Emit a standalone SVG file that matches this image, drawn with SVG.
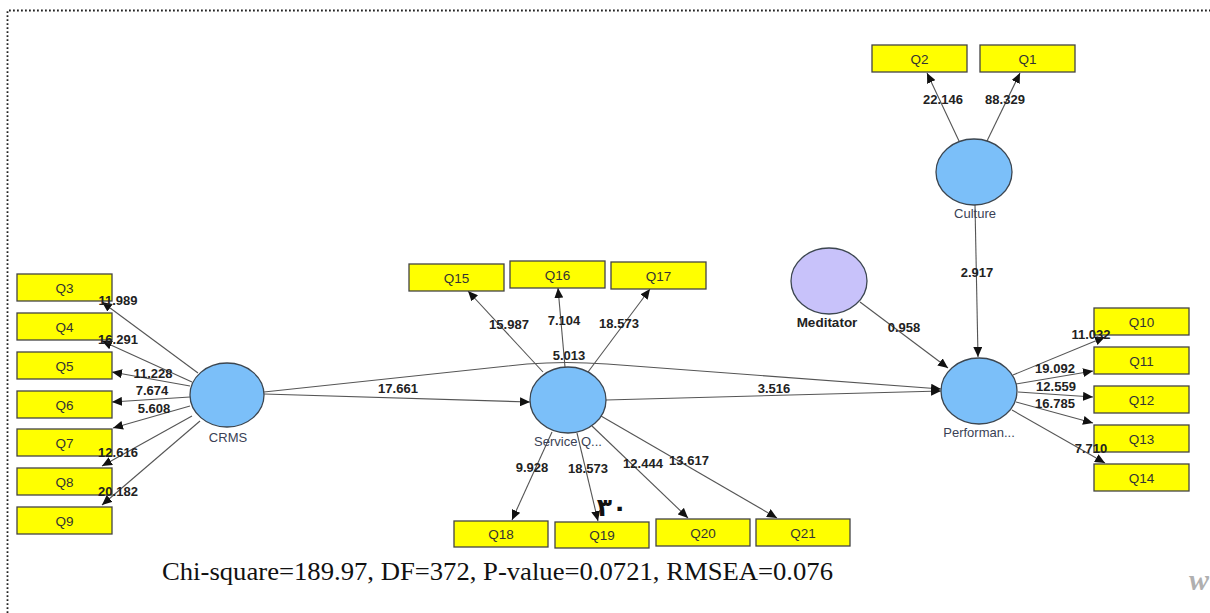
<svg xmlns="http://www.w3.org/2000/svg" width="1210" height="613" viewBox="0 0 1210 613">
  <defs>
    <marker id="ah" markerUnits="userSpaceOnUse" markerWidth="11" markerHeight="9" refX="10" refY="4.5" orient="auto">
      <path d="M0,0 L10,4.5 L0,9 z" fill="#111"/>
    </marker>
    <style>
      .ind rect { fill: #ffff00; stroke: #444; stroke-width: 1.3; }
      .ind text { font-family: "Liberation Sans", Arial, sans-serif; font-size: 13.5px; fill: #333; text-anchor: middle; }
      .lv ellipse { fill: #7bbff9; stroke: #3c4650; stroke-width: 1.3; }
      .lv text { font-family: "Liberation Sans", Arial, sans-serif; font-size: 13px; fill: #3a3f55; text-anchor: middle; }
      .med ellipse { fill: #c8c2fa; }
      .med text { font-weight: bold; fill: #222; font-size: 13.5px; }
      .edges path { fill: none; stroke: #555; stroke-width: 1.1; marker-end: url(#ah); }
      .val { font-family: "Liberation Sans", Arial, sans-serif; font-size: 13px; font-weight: bold; fill: #222; text-anchor: middle; }
    </style>
  </defs>

  <rect width="1210" height="613" fill="#fff"/>
  <!-- dotted page frame -->
  <path d="M7.5,613 V10.5 H1210" fill="none" stroke="#222" stroke-width="1.8" stroke-dasharray="1.8 2.2"/>

  <!-- connectors -->
  <g id="connectors" class="edges">
    <!-- CRMS loadings -->
    <path d="M198,373 L102,302"/>
    <path d="M192,382 L102,341"/>
    <path d="M190,386 L112,372"/>
    <path d="M190,397 L112,402"/>
    <path d="M190,406 L113,428"/>
    <path d="M192,416 L102,466"/>
    <path d="M200,421 L102,505"/>
    <!-- structural paths -->
    <path d="M264,394 L530,402"/>
    <path d="M264,392 L527,364 Q566,361 607,364 L941,389"/>
    <path d="M606,400 L941,391"/>
    <path d="M860,302 L948,368"/>
    <path d="M975,205 L978,357"/>
    <!-- Service Q loadings -->
    <path d="M543,372 L468,291"/>
    <path d="M565,367 L558,288"/>
    <path d="M588,372 L650,289"/>
    <path d="M552,432 L512,520"/>
    <path d="M577,433 L598,521"/>
    <path d="M592,426 L688,518"/>
    <path d="M601,416 L777,518"/>
    <!-- Culture loadings -->
    <path d="M959,141 L927,73"/>
    <path d="M987,141 L1020,73"/>
    <!-- Performance loadings -->
    <path d="M1013,375 L1105,337"/>
    <path d="M1016,384 L1093,371"/>
    <path d="M1018,392 L1093,397"/>
    <path d="M1016,402 L1093,423"/>
    <path d="M1012,410 L1105,463"/>
  </g>

  <!-- latent variables -->
  <g id="crms" class="lv">
    <ellipse cx="227" cy="395" rx="37" ry="32"/>
    <text x="228" y="442">CRMS</text>
  </g>
  <g id="service" class="lv">
    <ellipse cx="568" cy="400" rx="38" ry="33"/>
    <text x="568" y="446">Service Q...</text>
  </g>
  <g id="performance" class="lv">
    <ellipse cx="979" cy="391" rx="38" ry="33"/>
    <text x="979" y="437">Performan...</text>
  </g>
  <g id="culture" class="lv">
    <ellipse cx="974" cy="172" rx="38" ry="33"/>
    <text x="975" y="218">Culture</text>
  </g>
  <g id="meditator" class="lv med">
    <ellipse cx="829" cy="281" rx="38" ry="33"/>
    <text x="827" y="327">Meditator</text>
  </g>

  <!-- indicators -->
  <g id="q1" class="ind"><rect x="980" y="45" width="95" height="27"/><text x="1027.5" y="63.5">Q1</text></g>
  <g id="q2" class="ind"><rect x="872" y="45" width="95" height="27"/><text x="919.5" y="63.5">Q2</text></g>
  <g id="q3" class="ind"><rect x="17" y="274" width="95" height="27"/><text x="64.5" y="292.5">Q3</text></g>
  <g id="q4" class="ind"><rect x="17" y="313" width="95" height="27"/><text x="64.5" y="331.5">Q4</text></g>
  <g id="q5" class="ind"><rect x="17" y="352" width="95" height="27"/><text x="64.5" y="370.5">Q5</text></g>
  <g id="q6" class="ind"><rect x="17" y="391" width="95" height="27"/><text x="64.5" y="409.5">Q6</text></g>
  <g id="q7" class="ind"><rect x="17" y="429" width="95" height="27"/><text x="64.5" y="447.5">Q7</text></g>
  <g id="q8" class="ind"><rect x="17" y="468" width="95" height="27"/><text x="64.5" y="486.5">Q8</text></g>
  <g id="q9" class="ind"><rect x="17" y="507" width="95" height="27"/><text x="64.5" y="525.5">Q9</text></g>
  <g id="q10" class="ind"><rect x="1094" y="308" width="95" height="27"/><text x="1141.5" y="326.5">Q10</text></g>
  <g id="q11" class="ind"><rect x="1094" y="347" width="95" height="27"/><text x="1141.5" y="365.5">Q11</text></g>
  <g id="q12" class="ind"><rect x="1094" y="386" width="95" height="27"/><text x="1141.5" y="404.5">Q12</text></g>
  <g id="q13" class="ind"><rect x="1094" y="425" width="95" height="27"/><text x="1141.5" y="443.5">Q13</text></g>
  <g id="q14" class="ind"><rect x="1094" y="464" width="95" height="27"/><text x="1141.5" y="482.5">Q14</text></g>
  <g id="q15" class="ind"><rect x="409" y="264" width="95" height="27"/><text x="456.5" y="282.5">Q15</text></g>
  <g id="q16" class="ind"><rect x="510" y="261" width="95" height="27"/><text x="557.5" y="279.5">Q16</text></g>
  <g id="q17" class="ind"><rect x="611" y="262" width="95" height="27"/><text x="658.5" y="280.5">Q17</text></g>
  <g id="q18" class="ind"><rect x="454" y="521" width="94" height="26"/><text x="501" y="539">Q18</text></g>
  <g id="q19" class="ind"><rect x="555" y="522" width="94" height="26"/><text x="602" y="540">Q19</text></g>
  <g id="q20" class="ind"><rect x="656" y="519" width="94" height="27"/><text x="703" y="537.5">Q20</text></g>
  <g id="q21" class="ind"><rect x="756" y="519" width="94" height="27"/><text x="803" y="537.5">Q21</text></g>

  <!-- path coefficients / t-values -->
  <g id="values">
    <text class="val" x="118" y="305">11.989</text>
    <text class="val" x="118" y="344">16.291</text>
    <text class="val" x="153" y="378">11.228</text>
    <text class="val" x="152" y="395">7.674</text>
    <text class="val" x="154" y="413">5.608</text>
    <text class="val" x="118" y="457">12.616</text>
    <text class="val" x="118" y="496">20.182</text>
    <text class="val" x="398" y="393">17.661</text>
    <text class="val" x="509" y="329">15.987</text>
    <text class="val" x="564" y="325">7.104</text>
    <text class="val" x="619" y="328">18.573</text>
    <text class="val" x="569" y="360">5.013</text>
    <text class="val" x="532" y="472">9.928</text>
    <text class="val" x="588" y="473">18.573</text>
    <text class="val" x="643" y="468">12.444</text>
    <text class="val" x="689" y="465">13.617</text>
    <text class="val" x="774" y="393">3.516</text>
    <text class="val" x="904" y="332">0.958</text>
    <text class="val" x="977" y="277">2.917</text>
    <text class="val" x="1091" y="339">11.032</text>
    <text class="val" x="1055" y="373">19.092</text>
    <text class="val" x="1056" y="391">12.559</text>
    <text class="val" x="1055" y="408">16.785</text>
    <text class="val" x="1091" y="453">7.710</text>
    <text class="val" x="943" y="104">22.146</text>
    <text class="val" x="1005" y="104">88.329</text>
  </g>

  <!-- page number and fit statistics -->
  <text x="612" y="516" font-family="'DejaVu Sans', sans-serif" font-size="25" font-weight="bold" fill="#111" text-anchor="middle">٣٠</text>
  <text x="162" y="580" font-family="'Liberation Serif', 'Times New Roman', serif" font-size="26" fill="#111" textLength="671" lengthAdjust="spacingAndGlyphs">Chi-square=189.97, DF=372, P-value=0.0721, RMSEA=0.076</text>
  <text x="1189" y="590" font-family="'Liberation Serif', serif" font-size="30" font-style="italic" font-weight="bold" fill="#b0b0b0">w</text>
</svg>
